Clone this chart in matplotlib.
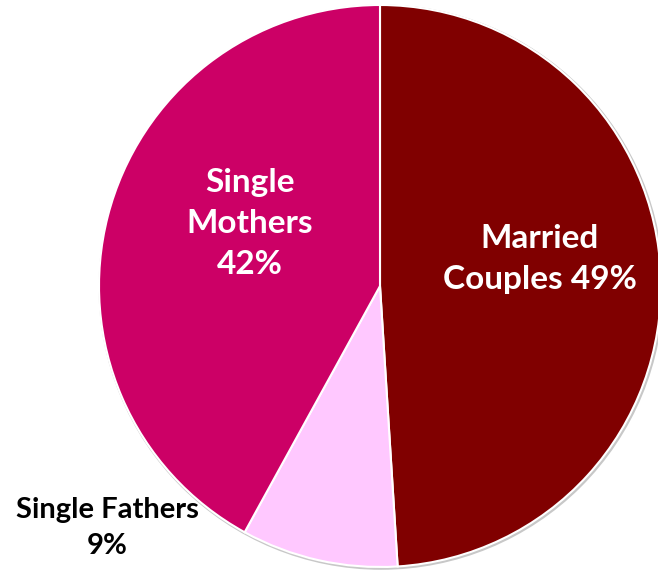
import matplotlib.pyplot as plt
from matplotlib.patches import Circle

# family structure shares
labels = ['Married\nCouples 49%', 'Single Fathers\n9%', 'Single\nMothers\n42%']
values = [49, 9, 42]
colors = ['#800000', '#FFC8FF', '#CC0066']

W, H = 658, 570
cx, cy, r = 380, 286, 281  # pixel center / radius of pie

fig = plt.figure(figsize=(W / 100, H / 100), dpi=100)
ax = fig.add_axes([0, 0, 1, 1])

# faint shadow ring like the original
ax.add_patch(Circle((0.004, -0.004), 1.006, facecolor='#c8c8c8', edgecolor='none', zorder=0))

wedges, _ = ax.pie(values, colors=colors, startangle=90, counterclock=False,
                   radius=1, wedgeprops=dict(edgecolor='white', linewidth=1.5))

ax.set_xlim(-cx / r, (W - cx) / r)
ax.set_ylim(-(H - cy) / r, cy / r)
ax.set_aspect('auto')
ax.axis('off')

def px(x, y):
    return ((x - cx) / r, (cy - y) / r)

font = dict(family=['Lato', 'DejaVu Sans'], fontweight='bold',
            ha='center', va='center')
ax.text(*px(540, 259), labels[0], color='white', fontsize=24, linespacing=1.5, **font)
ax.text(*px(250, 224), labels[2], color='white', fontsize=24, linespacing=1.5, **font)
ax.text(*px(107, 528), labels[1], color='black', fontsize=21, linespacing=1.5, **font)

fig.savefig('out.png', dpi=100)
